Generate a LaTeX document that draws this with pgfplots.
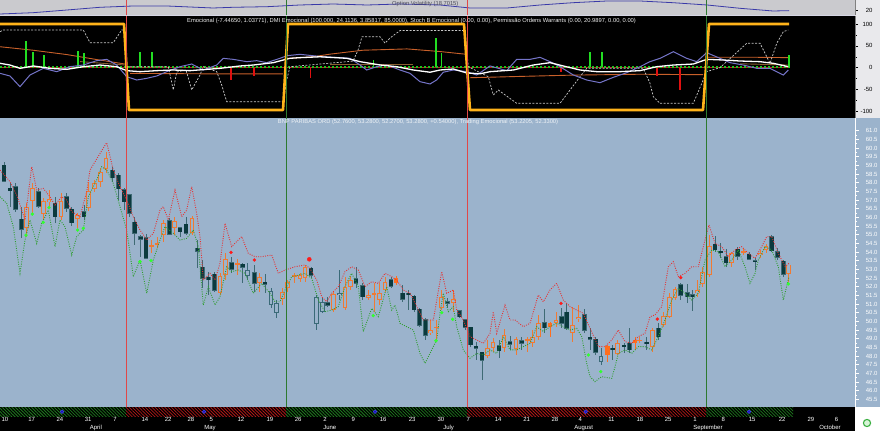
\documentclass[border=0pt]{standalone}
\usepackage{fontspec}
\setmainfont{Liberation Sans}
\usepackage{pgfplots}
\usepackage{pgfplotstable}
\pgfplotsset{compat=1.18}
\usetikzlibrary{patterns.meta}

\definecolor{pblue}{HTML}{9BB3CC}
\definecolor{tgray}{HTML}{CACACE}
\definecolor{rcol}{HTML}{E9E9EC}
\definecolor{cdark}{HTML}{0B3A3E}
\definecolor{cdarkl}{HTML}{3F6A74}
\definecolor{corange}{HTML}{F07A32}
\definecolor{cteal}{HTML}{3A6A78}
\definecolor{corf}{HTML}{FF6E1E}
\definecolor{vred}{HTML}{E04848}
\definecolor{vgreen}{HTML}{2E7A30}
\definecolor{dred}{HTML}{E83030}
\definecolor{dgreen}{HTML}{2E9E2E}
\definecolor{mkgreen}{HTML}{30FF30}
\definecolor{mkred}{HTML}{FF1A1A}
\definecolor{gold}{HTML}{FFB31A}
\definecolor{slate}{HTML}{7474C8}
\definecolor{brownA}{HTML}{C8602A}
\definecolor{brownB}{HTML}{8A6030}
\definecolor{volblue}{HTML}{3A3AA8}
\definecolor{hgreen}{HTML}{1E7A1E}
\definecolor{hred}{HTML}{B01818}
\definecolor{dotblue}{HTML}{1A1AB0}
\definecolor{histg}{HTML}{22DD22}
\definecolor{histr}{HTML}{E01010}
\definecolor{sepc}{HTML}{D6D6E4}
\definecolor{zred}{HTML}{C02020}
\definecolor{zgreen}{HTML}{20C020}
\definecolor{dashgray}{HTML}{C8C8C8}
\definecolor{dotring}{HTML}{4040FF}
\definecolor{ttlA}{HTML}{F2F2F2}
\definecolor{ttlB}{HTML}{EEF2F6}
\definecolor{ttlC}{HTML}{4A4A5A}
\definecolor{icong}{HTML}{3CB043}
\definecolor{iconf}{HTML}{D8F5D8}

\pgfplotstableread{
x o h l c
4 59.02 59.21 58.06 58.10
10 57.68 57.96 56.62 57.55
15.7 57.77 57.96 56.33 56.46
21.3 55.89 56.58 54.79 55.31
38.7 57.48 57.67 56.52 56.65
55 56.81 57.19 55.65 56.04
66.7 57.19 57.42 56.33 56.52
71.7 56.46 56.58 55.50 55.69
84 56.33 56.71 55.85 56.04
112.3 58.73 58.92 58.06 58.29
118.3 58.44 58.54 57.00 57.64
124 57.58 57.67 56.42 56.91
129.3 57.29 57.35 56.04 56.23
134.7 55.71 56.04 54.40 55.08
140.7 54.89 54.98 53.73 54.75
146 54.83 55.02 53.58 53.64
169.3 55.81 55.94 54.98 55.04
180 55.40 55.46 54.89 55.17
186 55.60 56.00 54.98 55.08
197.3 54.21 54.69 53.06 54.06
202.3 53.12 53.54 51.91 52.48
208.3 52.54 52.87 51.52 52.39
214.3 52.73 52.87 51.71 51.81
231.7 53.38 53.73 52.77 53.02
242.7 53.29 53.38 52.19 53.12
254.3 52.81 53.25 51.71 52.19
265 52.25 52.73 51.62 52.15
311 53.06 53.15 52.48 52.67
327.7 51.08 51.42 50.85 50.94
356 52.46 53.15 51.91 52.19
362.7 52.06 52.19 51.23 51.42
391 52.39 52.58 51.91 52.04
402.7 51.62 52.10 51.13 51.27
408.3 51.62 51.81 50.65 51.54
414 51.46 51.52 50.56 50.66
419.3 50.71 50.75 49.69 49.79
425.3 50.08 50.17 48.92 49.21
447.3 51.12 51.33 50.75 51.06
459.3 50.60 50.65 50.17 50.27
465 50.08 50.12 49.50 49.65
470.7 49.65 49.69 48.54 48.64
476 48.56 48.83 47.77 48.46
482 48.21 48.25 46.62 47.77
499 48.58 48.92 47.87 48.31
510 48.83 49.15 48.35 48.69
521.7 48.89 49.08 48.35 48.73
544.3 49.92 50.69 49.31 49.64
561.7 50.27 50.75 49.60 49.89
566.7 50.52 51.04 49.50 49.60
584.3 50.37 50.69 49.31 49.50
590 49.08 49.60 48.35 48.98
595.7 48.98 49.12 48.06 48.21
612.7 48.44 48.63 47.77 48.35
624 48.62 48.73 48.15 48.54
629.3 48.73 49.60 48.15 48.35
646.7 48.79 49.12 48.35 48.70
658.3 49.60 49.92 48.92 49.12
680.7 52.10 52.19 51.23 51.52
687.3 51.65 52.15 51.04 51.42
692.3 51.54 51.81 50.62 51.44
715 54.46 54.92 54.02 54.12
720.7 54.04 54.50 53.64 53.96
726 53.73 54.15 53.15 53.38
737.7 54.15 54.31 53.54 53.77
749 53.87 53.98 53.54 53.58
755 53.50 53.64 52.96 53.44
771.7 54.89 54.98 54.02 54.08
777.7 54.02 54.21 53.54 53.69
783.3 53.48 53.54 52.58 52.73
}\darkc

\pgfplotstableread{
x o h l c
26.7 55.37 56.81 54.89 56.62
32.3 56.94 57.96 56.23 57.68
43.3 56.17 57.10 55.85 56.94
49 56.90 57.58 56.62 57.04
61 56.04 57.38 55.85 56.92
77.7 55.89 56.23 55.37 56.14
88.7 56.52 58.06 56.38 57.52
94.3 57.62 58.15 57.48 58.00
100.7 58.06 58.83 57.77 58.64
106 58.77 59.79 58.54 59.41
151.7 54.31 54.69 53.92 54.40
157 54.44 54.89 54.21 54.54
163.3 54.98 55.85 54.60 55.69
174.3 55.37 56.00 54.98 55.81
192 55.12 56.08 54.98 55.94
220 51.62 52.77 51.52 52.62
225.7 52.67 53.92 52.38 53.58
237.3 53.27 53.60 52.68 53.38
259.3 52.19 52.77 51.71 52.54
282.3 51.27 51.91 50.94 51.71
287.7 51.91 52.38 51.71 52.25
294.3 52.58 52.77 52.19 52.67
300 52.42 52.81 52.29 52.67
305 52.48 53.25 52.29 53.15
333.3 50.66 51.71 50.56 51.58
345 50.75 52.58 50.65 52.00
350.7 52.00 52.62 51.81 52.39
368.3 51.36 51.81 51.23 51.52
374 51.56 52.19 50.56 51.65
379.3 51.23 52.19 50.94 51.65
385 51.81 52.58 51.71 52.25
430.7 49.31 50.08 49.21 49.50
436.3 49.60 50.08 48.83 49.69
441.7 50.75 51.81 50.65 51.42
453.3 51.04 51.81 50.56 51.27
487.3 48.00 48.92 47.87 48.44
493 48.48 49.02 48.25 48.83
504 48.46 49.54 48.25 49.21
516 48.39 49.12 48.06 48.98
527.3 48.87 49.12 48.25 48.95
532.7 48.73 49.50 48.54 49.08
538.3 49.08 50.37 48.92 49.89
556 49.92 50.56 49.69 50.08
572.3 49.31 50.85 48.83 49.79
578.3 50.12 50.94 49.98 50.27
617.7 48.14 48.92 48.06 48.77
639.3 48.87 49.12 48.73 48.93
652.3 48.54 49.60 48.25 49.50
663.3 49.79 50.56 49.69 50.31
669.3 50.27 51.62 50.17 51.42
675 51.33 52.00 51.23 51.85
697.7 51.62 52.38 51.42 51.81
702.7 52.15 53.15 51.98 52.87
709.3 52.67 54.98 52.58 54.35
731.7 53.35 54.02 53.15 53.92
743.3 53.96 54.21 53.83 54.06
760.7 53.83 54.12 53.64 53.96
766 54.12 54.46 53.92 54.35
788.3 52.76 53.28 52.27 53.28
}\orangec

\pgfplotstableread{
x o h l c
247.7 52.96 53.35 52.38 52.63
271 51.75 51.91 50.75 50.94
276.7 51.08 51.23 50.17 50.46
316.7 51.42 51.52 49.50 49.85
322.3 51.13 51.33 50.46 50.56
339.3 51.65 52.96 51.23 51.52
601 47.98 48.44 47.48 47.67
}\tealc

\pgfplotstableread{
x o h l c
396 52.23 52.62 52.10 52.52
550 49.69 49.98 49.12 49.89
607.3 48.06 48.63 47.67 48.58
635 48.77 49.12 48.35 48.92
}\orfc

\pgfplotsset{
  panel/.style={scale only axis, width=855bp, xmin=0, xmax=855, anchor=south west,
    axis x line=none, /pgf/number format/assume math mode=true,
    font=\fontsize{6}{7}\selectfont},
  wick/.style={draw=none, mark=none, forget plot, error bars/.cd, y dir=both, y explicit,
    error mark=none, error bar style={draw=#1, line width=1bp, solid}},
  body/.style 2 args={draw=none, mark=none, forget plot, error bars/.cd, y dir=both, y explicit,
    error mark=none, error bar style={draw=#1, line width=#2, solid}},
}

\begin{document}
\begin{tikzpicture}[x=1bp,y=1bp]
\useasboundingbox (0,0) rectangle (880,431);
\fill[black] (0,0) rectangle (855,23.7);
\fill[white] (855,0) rectangle (880,23.7);
\fill[pblue] (855,23.7) rectangle (880,312.7);
\fill[rcol] (855,312.7) rectangle (880,431);
\fill[black] (0,312.7) rectangle (855,415.5);
\fill[sepc] (0,414.6) rectangle (855,415.5);

% ---------------- top strip: option volatility
\begin{axis}[panel, at={(0bp,415.5bp)}, height=15.5bp, ymin=9, ymax=40,
  axis background/.style={fill=tgray},
  axis y line*=right, y axis line style={draw=gray, -},
  ytick={20}, tick align=outside, major tick length=3bp,
  every tick/.style={black, line width=0.4bp},
  yticklabel style={anchor=east, xshift=18bp, text=black}]
\addplot[volblue, line width=0.8bp] coordinates {
(0,12) (33,14.6) (67,20) (100,25.4) (133,28) (167,28) (213,24) (233,25.4) (267,26.6)
(300,30) (333,32) (367,30) (400,32) (440,30) (470,24) (507,24) (540,30) (573,34.6)
(607,38) (640,38) (673,34.6) (707,30) (740,23.4) (773,18) (789,18.7)};
\addplot[vred, line width=0.9bp] coordinates {(126,9) (126,40)};
\addplot[vred, line width=0.9bp] coordinates {(467,9) (467,40)};
\addplot[vgreen, line width=0.9bp] coordinates {(286,9) (286,40)};
\addplot[vgreen, line width=0.9bp] coordinates {(706,9) (706,40)};
\end{axis}

% ---------------- indicator panel
\begin{axis}[panel, at={(0bp,312.7bp)}, height=102bp, ymin=-115.9, ymax=117.7,
  axis background/.style={fill=black},
  axis y line*=right, y axis line style={draw=gray, -},
  ytick={-100,-50,0,50,100}, minor y tick num=1, tick align=outside,
  major tick length=3bp, minor tick length=1.5bp,
  every tick/.style={black, line width=0.4bp},
  yticklabel style={anchor=east, xshift=18bp, text=black}]
\addplot[brownA, line width=0.9bp] coordinates {(0,48) (33,40) (67,30) (93,20) (126,8)};
\addplot[brownA, line width=0.9bp] coordinates {(130,-13) (200,-14) (283,-14)};
\addplot[brownA, line width=0.9bp] coordinates {(286,21) (313,25) (330,31) (363,40) (407,43) (440,37) (465,31)};
\addplot[brownA, line width=0.9bp] coordinates {(470,-23) (520,-20) (573,-17) (640,-15) (703,-16)};
\addplot[brownA, line width=0.9bp] coordinates {(707,24) (750,24) (789,23)};
\addplot[brownB, line width=0.9bp] coordinates {(80,14) (126,6)};
\addplot[brownB, line width=0.9bp] coordinates {(330,8) (413,8)};
\addplot[brownB, line width=0.9bp] coordinates {(740,9) (789,6)};
\addplot[ycomb, histg, line width=1.2bp, mark=none] coordinates {(26,60) (33,36) (44,29) (78,38) (84,33) (373.3,18) (436,69) (441.7,33) (789,30)};
\addplot[ycomb, histg, line width=2.4bp, mark=none] coordinates {(140,37) (152,37) (590,36) (602,36)};
\addplot[ycomb, histr, line width=1.2bp, mark=none] coordinates {(231,-29) (254,-20) (310.7,-24) (561,-10) (657,-19) (680,-52)};
\addplot[zred, line width=0.6bp] coordinates {(0,1) (789,1)};
\addplot[zgreen, line width=1.6bp, dash pattern=on 1.6bp off 2.4bp] coordinates {(0,1) (789,1)};
\addplot[dashgray, line width=0.7bp, dash pattern=on 2bp off 1.5bp] coordinates {
(0,82.5) (3.3,86.3) (83.3,86.3) (90,57.3) (113.3,57.3) (121.7,86.3) (124,86.3) (127,2.3)
(168.3,2.3) (173.3,-51) (176.7,-10) (186,-5) (191.7,-51) (200,-16.7) (203.3,2.3) (216.7,-9.1)
(221.7,-39.6) (226.7,-77.8) (283.3,-77.8) (286.7,-28) (290,2.3) (353,15) (358,40) (362,71)
(380,71) (385,56) (390,68) (400,85) (465,85) (468.3,2.3) (488.3,-20.6) (493.3,-62.5)
(498.3,-51.1) (516.7,-81.6) (560,-81.6) (580,-20.6) (586.7,-1.5) (643.3,-1.5) (650,-35.8)
(653.3,-66.4) (660,-81.6) (693.3,-81.6) (706.7,-9) (720,0) (746.7,55.8) (760,55.8) (770,10)
(776.7,55.8) (783.3,82.5) (788.3,86.3)};
\addplot[slate, line width=1bp] coordinates {
(0,-12.9) (10,-19) (20,-43.5) (30,-16.7) (43.3,-1.5) (56.7,-9.1) (70,2.3) (83.3,6.1)
(96.7,16.1) (106.7,19.1) (116.7,6.1) (126.7,-20.6) (136.7,-28.2) (146.7,-24.4) (156.7,-19)
(166.7,-9.1) (180,2.3) (191.7,8.4) (203.3,-5.3) (216.7,6.1) (223.3,21.4) (233.3,19.1)
(246.7,13.8) (256.7,16.1) (266.7,11.5) (280,21.5) (287,27.5) (300,30.6) (323,25) (340,23)
(350,21.5) (360,6.2) (366.7,-5.3) (376.7,2.3) (386.7,6.2) (400,-5.3) (410,-12.9) (420,-32)
(430,-37.3) (436.7,-28) (443.3,-10.4) (453.3,-5.3) (466.7,-9.1) (476.7,-16.7) (490,3.9)
(506.7,-6.8) (516.7,19.1) (530,19.1)
(540,23.7) (550,13.8) (560,2.3) (573.3,-16.7) (586.7,-28.2) (600,-34.3) (613.3,-22.1)
(626.7,-11.4) (640,2.3) (650,13.8) (660,21.4) (673.3,36.7) (686.7,21.4) (696.7,13.8)
(706.7,34.4) (720,21.4) (730,11.5) (743.3,6.1) (756.7,-1.5) (770,-1.5) (783.3,-16.7) (788.3,-5.3)};
\addplot[white, line width=1.3bp] coordinates {
(0,10) (10,6.1) (20,-1.5) (33.3,3.9) (50,-1.5) (66.7,-3.8) (83.3,2.3) (100,6.1) (116.7,2.3)
(126.7,-6.8) (140,-9.1) (156.7,-6.8) (173.3,-5.3) (190,-6.8) (206.7,-3.8) (220,-1.5)
(240,3.9) (253.3,6.1) (273.3,11.5) (283.3,17.6) (290,21.5) (300,23) (320,25) (346.7,21.5)
(360,13.8) (380,6.2) (396.7,2.3) (413.3,-5.3) (430,-10.4) (440,-5.3) (453.3,-3) (466.7,-12)
(480,-14) (490,-9.1) (513.3,-5.3) (533.3,6.1) (550,11.5) (563.3,3.9) (580,-5.3)
(596.7,-9.1) (620,-9.1) (640,-6.8) (656.7,2.3) (673.3,6.1) (693.3,8.4) (706.7,19.1)
(723.3,17.6) (740,15.3) (760,13.8) (773.3,10) (788.3,2.3)};
\addplot[gold, line width=2.6bp, line join=round] coordinates {
(0,100) (124,100) (129,-97) (283,-97) (288,100) (464,100) (470,-97) (703,-97) (709,100) (789,100)};
\addplot[vred, line width=0.9bp] coordinates {(126,-115.9) (126,117.7)};
\addplot[vred, line width=0.9bp] coordinates {(467,-115.9) (467,117.7)};
\addplot[vgreen, line width=0.9bp] coordinates {(286,-115.9) (286,117.7)};
\addplot[vgreen, line width=0.9bp] coordinates {(706,-115.9) (706,117.7)};
\end{axis}

% ---------------- price panel
\begin{axis}[panel, at={(0bp,23.7bp)}, height=289bp, ymin=45.04, ymax=61.716,
  axis background/.style={fill=pblue},
  axis y line*=right, y axis line style={white, line width=0.7bp, -},
  ytick={45.5,46,...,61}, minor y tick num=1, tick align=outside,
  major tick length=4bp, minor tick length=2bp,
  every tick/.style={white, line width=0.5bp},
  yticklabel={\pgfmathprintnumber[fixed,fixed zerofill,precision=1,assume math mode=true]{\tick}},
  yticklabel style={anchor=east, xshift=22bp, text=white}]
\addplot[wick=cdarkl] table[x=x, y expr={(\thisrow{h}+\thisrow{l})/2}, y error expr={(\thisrow{h}-\thisrow{l})/2}] {\darkc};
\addplot[body={cdarkl}{4.8bp}] table[x=x, y expr={(\thisrow{o}+\thisrow{c})/2}, y error expr={max(abs(\thisrow{o}-\thisrow{c})/2+0.03,0.065)}] {\darkc};
\addplot[body={cdark}{3.6bp}] table[x=x, y expr={(\thisrow{o}+\thisrow{c})/2}, y error expr={max(abs(\thisrow{o}-\thisrow{c})/2,0.035)}] {\darkc};
\addplot[wick=corange] table[x=x, y expr={(\thisrow{h}+\thisrow{l})/2}, y error expr={(\thisrow{h}-\thisrow{l})/2}] {\orangec};
\addplot[body={corange}{4.6bp}] table[x=x, y expr={(\thisrow{o}+\thisrow{c})/2}, y error expr={max(abs(\thisrow{o}-\thisrow{c})/2,0.045)}] {\orangec};
\addplot[body={pblue}{2.8bp}] table[x=x, y expr={(\thisrow{o}+\thisrow{c})/2}, y error expr={max(abs(\thisrow{o}-\thisrow{c})/2-0.055,0)}] {\orangec};
\addplot[wick=cteal] table[x=x, y expr={(\thisrow{h}+\thisrow{l})/2}, y error expr={(\thisrow{h}-\thisrow{l})/2}] {\tealc};
\addplot[body={cteal}{4.6bp}] table[x=x, y expr={(\thisrow{o}+\thisrow{c})/2}, y error expr={max(abs(\thisrow{o}-\thisrow{c})/2,0.045)}] {\tealc};
\addplot[body={pblue}{2.8bp}] table[x=x, y expr={(\thisrow{o}+\thisrow{c})/2}, y error expr={max(abs(\thisrow{o}-\thisrow{c})/2-0.055,0)}] {\tealc};
\addplot[wick=corf] table[x=x, y expr={(\thisrow{h}+\thisrow{l})/2}, y error expr={(\thisrow{h}-\thisrow{l})/2}] {\orfc};
\addplot[body={corf}{4.6bp}] table[x=x, y expr={(\thisrow{o}+\thisrow{c})/2}, y error expr={max(abs(\thisrow{o}-\thisrow{c})/2,0.045)}] {\orfc};
\addplot[dred, line width=0.9bp, dash pattern=on 0.9bp off 1.4bp] coordinates {
(0,58.73) (10,58.06) (16.7,57.29) (25,55.85) (31.7,58.92) (36.7,57.58) (43.3,57.67) (50,57.19)
(55,56.71) (61.7,57.19) (66.7,57.0) (71.7,56.33) (80,56.04) (86.7,57.48) (90,58.73) (100,59.69)
(106.7,60.31) (113.3,58.73) (120,57.77) (126.7,57.0) (133.3,56.04) (140,55.27) (146.7,54.69)
(153.3,55.08) (160,56.42) (163.3,56.62) (168.3,55.85) (175,57.58) (181.7,56.04) (186.7,56.42)
(191.7,57.77) (196.7,56.23) (200,54.89) (203.3,52.38) (210,52.77) (215,52.38) (220,53.35)
(225,55.65) (231.7,54.31) (241.7,54.89) (248.3,53.92) (255,53.73) (261.7,53.73) (271.7,53.83)
(278.3,52.77) (285,52.96) (295,53.15) (305,53.25) (310,53.06) (316.7,52.38) (321.7,51.42)
(326.7,51.13) (331.7,51.62) (338.3,52.0) (345,52.87) (351.7,53.15) (358.3,52.96) (365,52.0)
(371.7,52.29) (378.3,52.19) (385,52.77) (391.7,52.58) (396.7,52.38) (403.3,51.81) (410,51.62)
(416.7,50.85) (423.3,50.08) (433.3,50.08) (441.7,52.87) (446.7,51.62) (453.3,51.81) (456.7,50.65)
(463.3,50.08) (470,49.12) (476.7,48.92) (483.3,48.73) (490,49.31) (493.3,50.56) (496.7,49.31)
(505,50.94) (510,50.08) (515,50.08) (523.3,49.69) (530,49.89) (538.3,51.52) (543.3,51.13)
(550,51.81) (556.7,52.19) (563.3,51.23) (570,50.85) (576.7,50.65) (583.3,50.46) (590,49.6)
(598.3,48.54) (605,48.54) (611.7,48.92) (618.3,49.5) (625,48.83) (631.7,48.73) (638.3,49.12)
(645,49.31) (650,50.27) (655,50.37) (661.7,50.85) (668.3,53.15) (673.3,53.44) (678.3,52.58)
(685,52.77) (691.7,53.15) (698.3,53.15) (705,54.69) (709,55.56) (715,54.50) (721.7,54.31)
(728.3,53.73) (735,54.12) (741.7,54.31) (748.3,53.92) (755,53.64) (761.7,54.31) (766.7,54.89)
(771.7,54.89) (778.3,53.92) (785,53.15) (789,53.35)};
\addplot[dgreen, line width=0.9bp, dash pattern=on 0.9bp off 1.4bp] coordinates {
(0,57.19) (6.7,56.81) (13.3,55.46) (20,52.77) (25,54.69) (30,55.85) (36.7,54.5) (41.7,55.65)
(48.3,56.42) (55,54.31) (60,55.85) (65,55.46) (71.7,53.83) (76.7,54.89) (83.3,55.27) (88.3,57.19)
(96.7,58.15) (101.7,58.92) (106.7,58.73) (113.3,57.96) (120,56.62) (126.7,55.27) (133.3,52.58)
(140,53.54) (146.7,51.62) (153.3,53.54) (160,54.69) (165,55.46) (173.3,55.08) (180,54.69)
(186.7,54.79) (193.3,55.27) (198.3,54.31) (200,53.15) (203.3,50.94) (208.3,52.0) (215,50.94)
(220,51.42) (226.7,53.15) (231.7,52.87) (238.3,52.96) (245,52.77) (253.3,51.62) (261.7,52.19)
(270,51.62) (275,51.13) (280,51.13) (285,51.81) (291.7,52.58) (298.3,52.67) (305,52.77)
(311.7,52.48) (318.3,51.23) (325,50.56) (331.7,50.65) (338.3,50.85) (345,52.0) (351.7,52.77)
(358.3,52.0) (363.3,49.41) (371.7,50.75) (378.3,50.27) (386.7,52.0) (391.7,50.65) (395,50.94)
(400,49.89) (406.7,49.69) (413.3,49.50) (420,48.15) (425,47.58) (431.7,48.35) (436.7,48.92)
(440,50.46) (443.3,51.62) (448.3,50.56) (453.3,50.85) (456.7,49.69) (463.3,48.35) (470,47.87)
(476.7,48.15) (483.3,48.06) (490,48.35) (496.7,48.15) (503.3,49.12) (510,48.35) (516.7,48.35)
(523.3,48.54) (530,48.73) (536.7,49.69) (543.3,49.41) (550,49.69) (556.7,49.89) (563.3,49.69)
(570,49.5) (576.7,49.6) (581.7,49.12) (586.7,47.58) (590,46.81) (595,46.52) (601.7,46.81)
(611.7,46.71) (615,47.38) (618.3,48.15) (625,48.35) (631.7,48.15) (638.3,48.54) (645,48.54)
(651.7,48.35) (658.3,49.12) (665,50.08) (671.7,51.23) (678.3,51.91) (685,51.62) (691.7,51.23)
(698.3,51.62) (705,53.54) (711.7,54.12) (718.3,54.02) (725,53.15) (731.7,53.54) (738.3,54.12)
(745,53.15) (750,52.19) (755,52.77) (758.3,53.54) (765,54.31) (771.7,54.12) (778.3,53.15)
(783.3,51.23) (789,52.58)};
\addplot[only marks, mark=*, mark size=1.5bp, mkgreen] coordinates {
(26,54.98) (32.3,56.19) (43.3,55.71) (49,56.56) (77.7,55.27) (83.3,55.37) (140,53.44) (151,53.5)
(373.3,50.33) (436,48.88) (441.7,50.5) (452.7,50.12) (588.3,48.06) (600.7,47.1) (788.3,52.16)};
\addplot[only marks, mark=*, mark size=1.5bp, mkred] coordinates {
(231,53.98) (254.3,53.54) (561,51.04) (657.3,50.13) (680.7,52.52)};
\addplot[only marks, mark=*, mark size=2bp, mkred] coordinates {(309.3,53.58)};
\addplot[vred, line width=0.9bp] coordinates {(126,45.04) (126,61.716)};
\addplot[vred, line width=0.9bp] coordinates {(467,45.04) (467,61.716)};
\addplot[vgreen, line width=0.9bp] coordinates {(286,45.04) (286,61.716)};
\addplot[vgreen, line width=0.9bp] coordinates {(706,45.04) (706,61.716)};
\end{axis}

% ---------------- regime strip
\begin{axis}[panel, at={(0bp,15bp)}, height=8.7bp, ymin=0, ymax=1, axis y line=none,
  axis background/.style={fill=black}]
\addplot[draw=none, pattern={Lines[angle=-45, distance=2.3bp, line width=0.8bp]}, pattern color=hgreen] coordinates {(0,1) (126,1)} \closedcycle;
\addplot[draw=none, pattern={Lines[angle=-45, distance=2.3bp, line width=0.8bp]}, pattern color=hred] coordinates {(126,1) (286,1)} \closedcycle;
\addplot[draw=none, pattern={Lines[angle=-45, distance=2.3bp, line width=0.8bp]}, pattern color=hgreen] coordinates {(286,1) (467,1)} \closedcycle;
\addplot[draw=none, pattern={Lines[angle=-45, distance=2.3bp, line width=0.8bp]}, pattern color=hred] coordinates {(467,1) (706,1)} \closedcycle;
\addplot[draw=none, pattern={Lines[angle=-45, distance=2.3bp, line width=0.8bp]}, pattern color=hgreen] coordinates {(706,1) (793,1)} \closedcycle;
\addplot[only marks, mark=*, mark size=1.8bp, mark options={fill=dotblue, draw=dotring, line width=0.5bp}] coordinates {(62,0.5) (204,0.5) (375,0.5) (585.7,0.5) (749,0.5)};
\end{axis}

% ---------------- date axis
\begin{axis}[panel, at={(0bp,7.7bp)}, height=7.3bp, ymin=0, ymax=1,
  axis x line*=bottom, axis y line=none, x axis line style={white, line width=0.7bp, -},
  xtick={0,26.7,55,83.3,111.7,140,163.3,186,208,236,265,293.3,321.7,350,378.3,407.3,436,465,493.3,521.7,550,577,606.7,635,663.3,691.7,720,747.3,777.3,806,833.3},
  xticklabels={}, tick align=inside, major tick length=7.3bp,
  every tick/.style={white, line width=0.6bp},
  extra x ticks={88.3,202.7,321.7,441.7,572.7,691.7,817.7}, extra x tick labels={},
  extra x tick style={tick align=center, major tick length=15.4bp}]
\end{axis}
\foreach \x/\l in {0/10,26.7/17,55/24,83.3/31,111.7/7,140/14,163.3/22,186/28,208/5,236/12,265/19,293.3/26,321.7/2,350/9,378.3/16,407.3/23,436/30,465/7,493.3/14,521.7/21,550/28,577/4,606.7/11,635/18,663.3/25,691.7/1,720/8,747.3/15,777.3/22,806/29,833.3/6}
  \node[anchor=base west, inner sep=0, text=white, font=\fontsize{6}{7}\selectfont] at (\x+1.4,9.4) {\l};
\foreach \x/\l in {88.3/April,202.7/May,321.7/June,441.7/July,572.7/August,691.7/September,817.7/October}
  \node[anchor=base west, inner sep=0, text=white, font=\fontsize{6}{7}\selectfont] at (\x+1.4,1.6) {\l};

% ---------------- titles
\node[anchor=west, inner sep=0, text=ttlA, font=\fontsize{5.8}{7}\selectfont] at (187,410.4)
  {Emocional (-7.44650, 1.03771), DMI Emocional (100.000, 24.1136, 3.85817, 85.0000), Stoch B Emocional (0.00, 0.00), Permissão Ordens Warrants (0.00, 20.9897, 0.00, 0.00)};
\node[anchor=west, inner sep=0, text=ttlB, font=\fontsize{5.8}{7}\selectfont] at (277.7,308.7)
  {BNP PARIBAS ORD (52.7600, 53.2800, 52.2700, 53.2800, +0.54000), Trading Emocional (53.2205, 52.3300)};
\node[anchor=west, inner sep=0, text=ttlC, font=\fontsize{5.8}{7}\selectfont] at (392,426.5)
  {Option Volatility (18.7015)};
\draw[icong, line width=1.1bp, fill=iconf] (867,8) circle (3.6);
\end{tikzpicture}
\end{document}
